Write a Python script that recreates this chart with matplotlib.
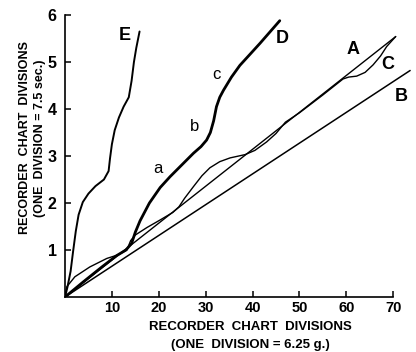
import matplotlib
matplotlib.use("Agg")
import matplotlib.pyplot as plt

plt.rcParams['font.family'] = ['Liberation Sans', 'DejaVu Sans']

# Curve A (straight line)
a_x = [0, 70.5]
a_y = [0, 5.54]
# Curve B (straight line)
b_x = [0, 73.6]
b_y = [0, 4.82]
# Curve C
c_x = [0, 0.4, 2.1, 5.3, 8.9, 11.4, 13.2, 14.0, 15.0, 17.5, 20.3, 23.0, 24.3, 25.5,
       27.4, 29.2, 30.9, 33.0, 35.2, 38.4, 40.5, 43.0, 45.0, 47.0, 50.0, 55.0, 59.3,
       60.5, 62.2, 64.0, 65.7, 67.3, 68.6, 70.5]
c_y = [0, 0.22, 0.43, 0.64, 0.82, 0.90, 1.00, 1.20, 1.32, 1.48, 1.64, 1.80, 1.92, 2.10,
       2.35, 2.58, 2.75, 2.88, 2.96, 3.03, 3.12, 3.30, 3.48, 3.72, 3.92, 4.30, 4.64,
       4.68, 4.70, 4.78, 4.94, 5.13, 5.33, 5.54]
# Curve D
d_x = [0, 4, 8, 11, 13, 14.2, 15.0, 16.0, 18.0, 20.3, 22.4, 25.0, 27.4, 29.0, 30.2,
       31.0, 31.7, 32.3, 33.0, 33.8, 35.5, 37.3, 39.5, 41.6, 43.7, 45.8]
d_y = [0, 0.33, 0.65, 0.88, 1.00, 1.14, 1.38, 1.62, 2.00, 2.33, 2.56, 2.82, 3.06, 3.20, 3.34,
       3.50, 3.75, 4.05, 4.25, 4.40, 4.68, 4.93, 5.17, 5.40, 5.64, 5.88]
# Curve E
e_x = [0, 0.5, 1.2, 1.7, 2.3, 2.9, 3.8, 5.0, 6.5, 8.3, 9.3, 9.6, 10.0, 10.6, 11.5,
       12.5, 13.6, 14.2, 14.7, 15.2, 15.9]
e_y = [0, 0.20, 0.55, 0.95, 1.40, 1.75, 2.02, 2.20, 2.36, 2.50, 2.68, 2.95, 3.25, 3.55, 3.82,
       4.05, 4.25, 4.60, 5.00, 5.30, 5.65]

x_ticks = [10, 20, 30, 40, 50, 60, 70]
y_ticks = [1, 2, 3, 4, 5, 6]

fig = plt.figure(figsize=(4.16, 3.52), dpi=100)
ax = fig.add_axes([65/416, 1-297/352, (412-65)/416, (297-8)/352])
ax.set_xlim(0, 74)
ax.set_ylim(0, 6.15)

ax.plot(a_x, a_y, color='black', lw=1.0, solid_capstyle='round')
ax.plot(b_x, b_y, color='black', lw=1.1, solid_capstyle='round')
ax.plot(c_x, c_y, color='black', lw=1.0, solid_joinstyle='round')
ax.plot(d_x, d_y, color='black', lw=2.0, solid_joinstyle='round', solid_capstyle='round')
ax.plot(e_x, e_y, color='black', lw=1.4, solid_joinstyle='round', solid_capstyle='round')

lab_kw = dict(fontsize=13, fontweight='bold', ha='center', va='center')
ax.text(12.8, 5.57, 'E', **lab_kw)
ax.text(46.4, 5.50, 'D', **lab_kw)
ax.text(61.5, 5.26, 'A', **lab_kw)
ax.text(68.9, 4.94, 'C', **lab_kw)
ax.text(71.8, 4.26, 'B', **lab_kw)
small_kw = dict(fontsize=12, ha='center', va='center')
ax.text(19.8, 2.74, 'a', **small_kw)
ax.text(27.7, 3.62, 'b', **small_kw)
ax.text(32.3, 4.74, 'c', **small_kw)

for s in ['top', 'right']:
    ax.spines[s].set_visible(False)
ax.spines['left'].set_bounds(0, 6)
ax.spines['bottom'].set_bounds(0, 70)
ax.spines['left'].set_linewidth(1.2)
ax.spines['bottom'].set_linewidth(1.2)

ax.set_xticks(x_ticks)
ax.set_yticks(y_ticks)
ax.set_xticklabels([str(v) for v in x_ticks], fontsize=10.5, fontweight='bold')
ax.set_yticklabels([str(v) for v in y_ticks], fontsize=11.5, fontweight='bold')
ax.tick_params(axis='x', direction='in', length=4, width=1.1, pad=3)
ax.tick_params(axis='y', direction='in', length=4, width=1.1, pad=6)

fig.text(250/416, 1-327/352, 'RECORDER  CHART  DIVISIONS', fontsize=9.5,
         fontweight='bold', ha='center', va='center')
fig.text(250/416, 1-345/352, '(ONE  DIVISION = 6.25 g.)', fontsize=9.5,
         fontweight='bold', ha='center', va='center')
fig.text(25/416, 1-138/352, 'RECORDER  CHART  DIVISIONS', fontsize=9,
         fontweight='bold', ha='center', va='center', rotation=90)
fig.text(40/416, 1-138/352, '(ONE  DIVISION = 7.5 sec.)', fontsize=9,
         fontweight='bold', ha='center', va='center', rotation=90)

fig.savefig('out.png', dpi=100)
